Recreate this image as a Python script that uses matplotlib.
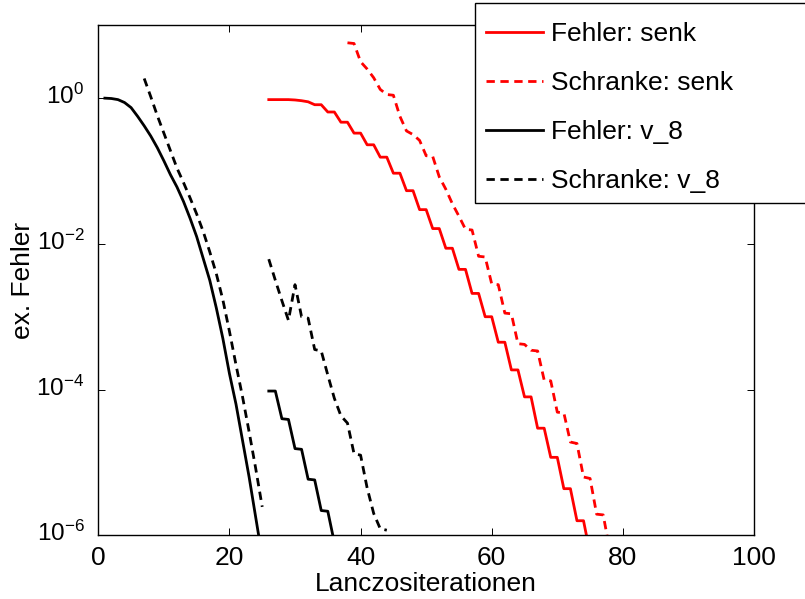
# Fehler und Schranken der Lanczositerationen (log-Plot)
import numpy as np
import matplotlib
matplotlib.use('Agg')
import matplotlib.pyplot as plt
import matplotlib.transforms as mtrans
from matplotlib.patches import Rectangle

plt.rcParams['font.family'] = ['Liberation Sans', 'DejaVu Sans']
plt.rcParams['mathtext.fontset'] = 'custom'
plt.rcParams['mathtext.rm'] = 'Liberation Sans'
plt.rcParams['mathtext.it'] = 'Liberation Sans'

# log10 values, one per iteration
# senk: Fehler
it_senk = np.arange(26, 76)
log_fehler_senk = [-0.02, -0.02, -0.02, -0.02, -0.025, -0.035, -0.05, -0.09, -0.09, -0.19,
                   -0.19, -0.33, -0.33, -0.48, -0.48, -0.64, -0.64, -0.81, -0.81, -1.03,
                   -1.03, -1.27, -1.27, -1.53, -1.53, -1.79, -1.79, -2.06, -2.06, -2.35,
                   -2.35, -2.68, -2.68, -3.00, -3.00, -3.35, -3.35, -3.73, -3.73, -4.10,
                   -4.10, -4.53, -4.53, -4.93, -4.93, -5.36, -5.36, -5.80, -5.80, -6.25]
# senk: Schranke
it_schr_senk = np.arange(38, 79)
log_schranke_senk = [0.76, 0.75, 0.50, 0.40, 0.28, 0.12, 0.05, 0.04, -0.25, -0.45,
                     -0.50, -0.58, -0.79, -0.80, -1.08, -1.25, -1.45, -1.62, -1.80, -1.81,
                     -2.17, -2.18, -2.55, -2.56, -2.95, -2.96, -3.37, -3.38, -3.46, -3.47,
                     -3.87, -3.88, -4.31, -4.32, -4.72, -4.74, -5.20, -5.22, -5.71, -5.72,
                     -6.20]
# v_8: Fehler (two pieces)
it_v8_a = np.arange(1, 26)
log_fehler_v8_a = [0.0, -0.005, -0.02, -0.06, -0.13, -0.25, -0.38, -0.52, -0.68, -0.86,
                   -1.05, -1.22, -1.42, -1.65, -1.90, -2.20, -2.50, -2.88, -3.30, -3.78,
                   -4.20, -4.70, -5.20, -5.75, -6.30]
it_v8_b = np.arange(26, 37)
log_fehler_v8_b = [-4.02, -4.02, -4.40, -4.41, -4.81, -4.82, -5.23, -5.24, -5.66, -5.67, -6.10]
# v_8: Schranke (two pieces)
it_schr_v8_a = np.arange(7, 26)
log_schranke_v8_a = [0.27, 0.02, -0.24, -0.48, -0.72, -0.96, -1.16, -1.37, -1.59, -1.83,
                     -2.11, -2.41, -2.77, -3.20, -3.66, -4.10, -4.58, -5.08, -5.61]
it_schr_v8_b = np.arange(26, 45)
log_schranke_v8_b = [-2.21, -2.50, -2.78, -3.05, -2.56, -3.00, -3.02, -3.45, -3.47, -3.80,
                     -4.12, -4.36, -4.46, -4.88, -4.90, -5.35, -5.70, -5.91, -5.93]

labels = ['Fehler: senk', 'Schranke: senk', 'Fehler: v_8', 'Schranke: v_8']

W, H = 805, 599
fig = plt.figure(figsize=(W/100, H/100), dpi=100)
ax = fig.add_axes([98.3/W, 1-535.3/H, (754-98.3)/W, (535.3-25.3)/H])

lw = 2.0
dsh = (3, 2)
h1, = ax.semilogy(it_senk, 10.0**np.array(log_fehler_senk), '-', color='r', lw=lw)
h2, = ax.semilogy(it_schr_senk, 10.0**np.array(log_schranke_senk), '--', color='r', lw=lw, dashes=dsh)
h3, = ax.semilogy(it_v8_a, 10.0**np.array(log_fehler_v8_a), '-', color='k', lw=lw)
ax.semilogy(it_v8_b, 10.0**np.array(log_fehler_v8_b), '-', color='k', lw=lw)
h4, = ax.semilogy(it_schr_v8_a, 10.0**np.array(log_schranke_v8_a), '--', color='k', lw=lw, dashes=dsh)
ax.semilogy(it_schr_v8_b, 10.0**np.array(log_schranke_v8_b), '--', color='k', lw=lw, dashes=dsh)

ax.set_xlim(0, 100)
ax.set_ylim(1e-6, 1e1)
ax.set_xticks([0, 20, 40, 60, 80, 100])
ax.set_yticks([1e-6, 1e-4, 1e-2, 1e0])
ax.yaxis.set_minor_locator(matplotlib.ticker.NullLocator())
ax.tick_params(which='both', direction='in', top=True, right=True, length=5,
               width=0.7, labelsize=19, pad=8)
ax.tick_params(axis='y', labelsize=17.5, pad=10)
for s in ax.spines.values():
    s.set_linewidth(1.0)

# MATLAB puts the "10" of each label on the tick, not the whole label
shift = mtrans.ScaledTranslation(0, 3/72, fig.dpi_scale_trans)
for lbl in ax.get_yticklabels():
    lbl.set_transform(lbl.get_transform() + shift)

ax.set_xlabel('Lanczositerationen', fontsize=19, labelpad=1)
ax.set_ylabel('ex. Fehler', fontsize=19, labelpad=1)

# legend box runs past the right edge of the figure
fig.add_artist(Rectangle((475/W, 1-203/H), 345/W, 200/H, transform=fig.transFigure,
                         facecolor='white', edgecolor='k', lw=1.0, zorder=4))
leg = fig.legend([h1, h2, h3, h4], labels, loc='upper left',
                 bbox_to_anchor=(486/W, 1-22/H), bbox_transform=fig.transFigure,
                 borderaxespad=0, borderpad=0, fontsize=19, handlelength=2.16,
                 handletextpad=0.3, labelspacing=0.95, frameon=False)

fig.savefig('out.png', dpi=100)
